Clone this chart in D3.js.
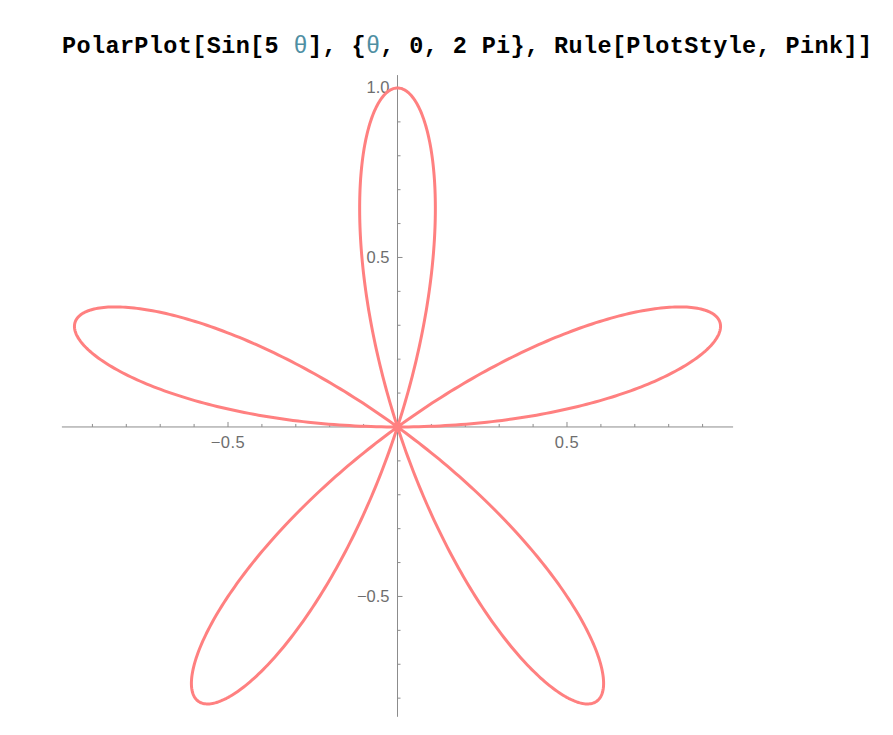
<!DOCTYPE html>
<html><head><meta charset="utf-8">
<script src="https://cdn.jsdelivr.net/npm/d3@7"></script>
<style>html,body{margin:0;padding:0;background:#fff;}</style>
</head><body>
<svg id="chart" width="893" height="735"></svg>
<script>
// ---- data ----
const titleParts = [
  {t: "PolarPlot[Sin[5 ", theta: false},
  {t: "θ", theta: true},
  {t: "], {", theta: false},
  {t: "θ", theta: true},
  {t: ", 0, 2 Pi}, Rule[PlotStyle, Pink]]", theta: false}
];
const petalCount = [5];                 // r = sin(5 θ)
const thetaRange = [0, 2 * Math.PI];
const xDomain = [-0.99, 0.99];
const yDomain = [-0.855, 1.038];
const xMinorTicks = [-0.9,-0.8,-0.7,-0.6,-0.5,-0.4,-0.3,-0.2,-0.1,0.1,0.2,0.3,0.4,0.5,0.6,0.7,0.8,0.9];
const yMinorTicks = [-0.8,-0.7,-0.6,-0.5,-0.4,-0.3,-0.2,-0.1,0.1,0.2,0.3,0.4,0.5,0.6,0.7,0.8,0.9,1.0];
const xLabelTicks = [-0.5, 0.5];
const yLabelTicks = [-0.5, 0.5, 1.0];

// ---- drawing ----
const svg = d3.select("#chart");
const x = d3.scaleLinear().domain(xDomain).range([61.9, 733.1]);
const y = d3.scaleLinear().domain(yDomain).range([716.8, 75.1]);
const ox = x(0), oy = y(0);
const axisColor = "#8c8c8c";
const labelColor = "#6e6e6e";
const fmt = v => (v < 0 ? "\u2212" : "") + Math.abs(v).toFixed(1);
const isMajor = v => Math.abs(Math.round(v * 10) % 5) === 0;

// title
const title = svg.append("text")
  .attr("x", 62).attr("y", 53)
  .attr("font-family", "'Liberation Mono', 'DejaVu Sans Mono', monospace")
  .attr("font-weight", "bold")
  .attr("font-size", 23.5)
  .attr("textLength", 810)
  .attr("lengthAdjust", "spacing")
  .attr("fill", "#000");
titleParts.forEach(p => {
  title.append("tspan").text(p.t)
    .attr("fill", p.theta ? "#4f8fa3" : "#000")
    .attr("font-weight", p.theta ? "normal" : "bold");
});

// x axis
svg.append("line").attr("x1", x(xDomain[0])).attr("x2", x(xDomain[1]))
  .attr("y1", oy).attr("y2", oy).attr("stroke", axisColor).attr("stroke-width", 1);
svg.selectAll(".xt").data(xMinorTicks).join("line")
  .attr("x1", d => x(d)).attr("x2", d => x(d))
  .attr("y1", oy).attr("y2", d => oy - (isMajor(d) ? 5 : 3))
  .attr("stroke", axisColor).attr("stroke-width", 1);
svg.selectAll(".xl").data(xLabelTicks).join("text")
  .attr("x", d => x(d)).attr("y", oy + 21)
  .attr("text-anchor", "middle")
  .attr("font-family", "'Liberation Sans', Arial, sans-serif")
  .attr("font-size", 16.5).attr("letter-spacing", 0.5).attr("fill", labelColor)
  .text(fmt);

// y axis
svg.append("line").attr("x1", ox).attr("x2", ox)
  .attr("y1", y(yDomain[0])).attr("y2", y(yDomain[1]))
  .attr("stroke", axisColor).attr("stroke-width", 1);
svg.selectAll(".yt").data(yMinorTicks).join("line")
  .attr("x1", ox).attr("x2", d => ox + (isMajor(d) ? 5 : 3))
  .attr("y1", d => y(d)).attr("y2", d => y(d))
  .attr("stroke", axisColor).attr("stroke-width", 1);
svg.selectAll(".yl").data(yLabelTicks).join("text")
  .attr("x", ox - 8).attr("y", d => y(d) + 5.5)
  .attr("text-anchor", "end")
  .attr("font-family", "'Liberation Sans', Arial, sans-serif")
  .attr("font-size", 16.5).attr("fill", labelColor)
  .text(fmt);

// curve r = sin(k θ)
const k = petalCount[0];
const N = 2000;
const pts = d3.range(N + 1).map(i => {
  const th = thetaRange[0] + (thetaRange[1] - thetaRange[0]) * i / N;
  const r = Math.sin(k * th);
  return [r * Math.cos(th), r * Math.sin(th)];
});
svg.append("path")
  .datum(pts)
  .attr("d", d3.line().x(d => x(d[0])).y(d => y(d[1])))
  .attr("fill", "none")
  .attr("stroke", "#ff8080")
  .attr("stroke-width", 3)
  .attr("stroke-linejoin", "round");
</script>
</body></html>
